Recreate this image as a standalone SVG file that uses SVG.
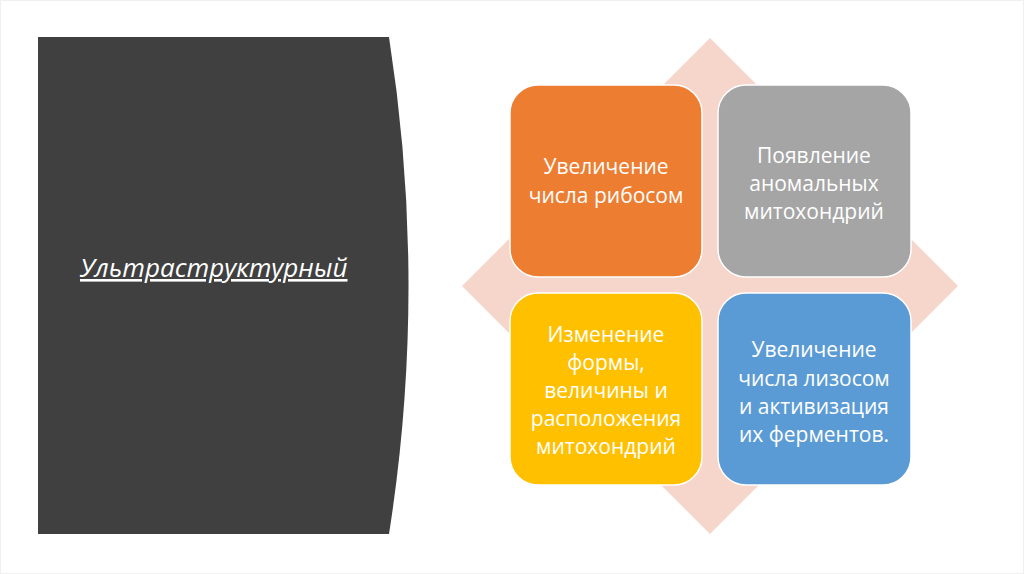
<svg xmlns="http://www.w3.org/2000/svg" width="1024" height="574" viewBox="0 0 1024 574">
<style>
.box{stroke:#fff;stroke-width:1.5}
.t{font-family:"Open Sans","Noto Sans","Liberation Sans",sans-serif;font-size:21px;fill:#fff;text-anchor:middle}
.title{font-family:"Open Sans","Noto Sans","Liberation Sans",sans-serif;font-size:26px;font-style:italic;fill:#fff;text-decoration:underline}
</style>
<rect x="0" y="0" width="1024" height="574" fill="#fff"/>
<rect x="0.5" y="0.5" width="1023" height="573" fill="none" stroke="#f0f0f0" stroke-width="1"/>
<g id="panel">
<path d="M38 37 L389 37 Q428 286 389 534 L38 534 Z" fill="#404040"/>
<text class="title" x="80" y="277">Ультраструктурный</text>
</g>
<g id="diamond">
<polygon points="710,38 958,286 710,534 462,286" fill="#F6D5CB"/>
</g>
<g id="n1">
<rect class="box" x="510" y="85" width="192" height="192" rx="28" fill="#ED7D31"/>
<text class="t" x="606" y="174">Увеличение</text>
<text class="t" x="606" y="203">числа рибосом</text>
</g>
<g id="n2">
<rect class="box" x="718" y="85" width="193" height="192" rx="28" fill="#A5A5A5"/>
<text class="t" x="814" y="163">Появление</text>
<text class="t" x="814" y="191">аномальных</text>
<text class="t" x="814" y="219">митохондрий</text>
</g>
<g id="n3">
<rect class="box" x="510" y="293" width="192" height="192" rx="28" fill="#FFC000"/>
<text class="t" x="606" y="342">Изменение</text>
<text class="t" x="606" y="370">формы,</text>
<text class="t" x="606" y="398">величины и</text>
<text class="t" x="606" y="426">расположения</text>
<text class="t" x="606" y="454">митохондрий</text>
</g>
<g id="n4">
<rect class="box" x="718" y="293" width="193" height="192" rx="28" fill="#5B9BD5"/>
<text class="t" x="814" y="357">Увеличение</text>
<text class="t" x="814" y="386">числа лизосом</text>
<text class="t" x="814" y="414">и активизация</text>
<text class="t" x="814" y="442">их ферментов.</text>
</g>
<g id="connectors"></g>
</svg>
